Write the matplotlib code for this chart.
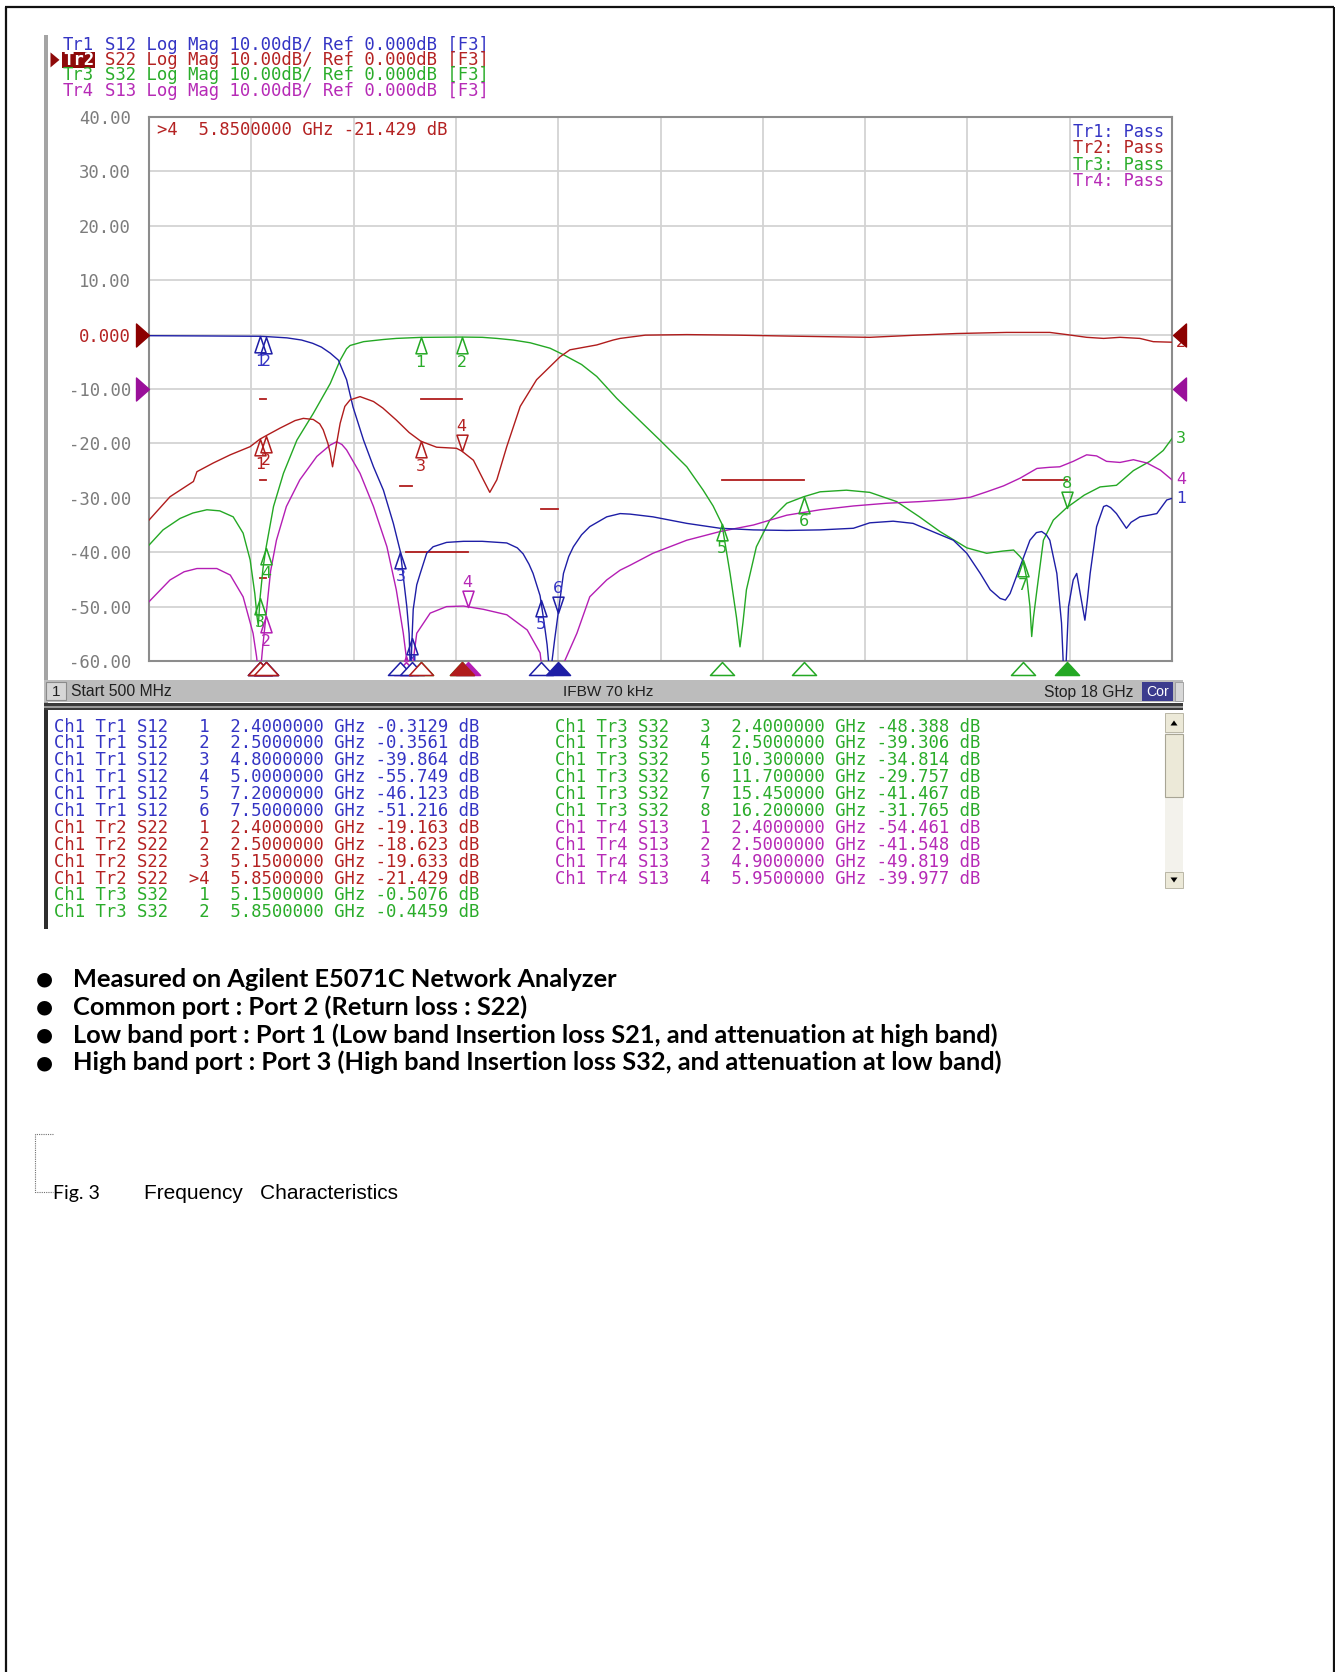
import numpy as np
import matplotlib
matplotlib.use("Agg")
import matplotlib.pyplot as plt
from matplotlib.path import Path
from matplotlib.patches import Rectangle, Polygon
import matplotlib.transforms as mtransforms

# ---------------- data ----------------
s12_freq = [0.5, 1.5, 2.4, 2.5, 2.86, 3.11, 3.3, 3.45, 3.60, 3.74, 3.88, 3.99, 4.17, 4.34, 4.51,
            4.68, 4.80, 4.91, 4.95, 4.975, 5.0, 5.02, 5.08, 5.14, 5.25, 5.36, 5.59, 5.88, 6.2,
            6.62, 6.80, 6.90, 7.0, 7.07, 7.19, 7.26, 7.31, 7.36, 7.44, 7.5, 7.59, 7.68, 7.76,
            7.9, 8.04, 8.33, 8.56, 8.73, 9.12, 9.70, 10.27, 10.84, 11.41, 11.98, 12.55, 12.83,
            13.23, 13.57, 13.97, 14.26, 14.49, 14.72, 14.89, 15.06, 15.15, 15.23, 15.40, 15.57,
            15.68, 15.77, 15.85, 15.91, 16.03, 16.11, 16.15, 16.19, 16.23, 16.31, 16.37, 16.43,
            16.51, 16.55, 16.60, 16.71, 16.83, 16.88, 16.95, 17.05, 17.22, 17.3, 17.45, 17.6,
            17.74, 17.91, 18.0]
s12_db = [-0.2, -0.25, -0.31, -0.36, -0.6, -1.0, -1.6, -2.3, -3.4, -4.7, -8.3, -13.3, -19.4,
          -24.3, -28.6, -34.7, -39.9, -50.0, -55.0, -63.0, -55.7, -50.5, -46.0, -43.9, -40.2,
          -39.0, -38.2, -38.0, -38.0, -38.3, -39.2, -40.3, -42.2, -43.9, -48.0, -53.0, -57.0,
          -63.0, -56.0, -51.2, -43.9, -40.8, -39.0, -36.8, -35.3, -33.5, -32.9, -33.0, -33.5,
          -34.7, -35.6, -35.9, -36.0, -35.9, -35.6, -34.6, -34.3, -34.7, -36.5, -37.8, -40.2,
          -43.9, -46.9, -48.5, -48.8, -47.6, -42.7, -37.8, -36.4, -36.2, -36.8, -37.8, -43.9,
          -53.0, -63.0, -60.0, -50.0, -45.1, -43.9, -47.6, -52.5, -49.0, -43.9, -35.3, -31.6,
          -31.4, -31.8, -32.9, -35.6, -34.5, -33.5, -33.2, -32.9, -30.4, -30.1]

s22_freq = [0.5, 0.86, 1.26, 1.32, 1.60, 1.89, 2.23, 2.4, 2.5, 2.74, 3.0, 3.14, 3.31, 3.42, 3.48,
            3.56, 3.60, 3.64, 3.68, 3.77, 3.85, 3.94, 4.11, 4.34, 4.5, 4.73, 4.95, 5.15, 5.42,
            5.76, 5.85, 6.05, 6.22, 6.33, 6.45, 6.62, 6.85, 7.13, 7.53, 7.70, 8.16, 8.44, 8.56,
            8.99, 9.70, 10.55, 11.58, 12.83, 13.63, 14.32, 15.17, 15.91, 16.20, 16.54, 16.83,
            17.11, 17.45, 17.68, 18.0]
s22_db = [-34.1, -29.8, -27.0, -25.2, -23.6, -22.1, -20.6, -19.2, -18.6, -17.2, -15.8, -15.4,
          -15.6, -16.4, -17.5, -20.0, -21.8, -24.3, -21.8, -16.3, -13.2, -12.0, -11.4, -12.3,
          -13.5, -15.7, -18.0, -19.6, -20.7, -20.9, -21.4, -23.1, -26.7, -29.0, -26.7, -20.6,
          -13.2, -8.3, -4.1, -2.8, -1.9, -1.0, -0.7, -0.1, 0.0, -0.1, -0.3, -0.5, -0.1, 0.2,
          0.4, 0.4, 0.0, -0.5, -0.7, -0.5, -0.7, -1.3, -1.4]

s32_freq = [0.5, 0.74, 1.03, 1.25, 1.49, 1.71, 1.94, 2.11, 2.23, 2.31, 2.35, 2.37, 2.40, 2.45,
            2.5, 2.63, 2.80, 3.03, 3.31, 3.60, 3.77, 3.88, 3.94, 4.17, 4.51, 4.73, 5.15, 5.85,
            6.2, 6.45, 6.73, 7.02, 7.36, 7.59, 7.9, 8.16, 8.50, 8.73, 9.24, 9.70, 9.98, 10.15,
            10.3, 10.44, 10.55, 10.61, 10.66, 10.72, 10.89, 11.12, 11.41, 11.70, 11.98, 12.43,
            12.83, 13.29, 13.68, 14.03, 14.49, 14.83, 15.1, 15.29, 15.40, 15.45, 15.52, 15.57,
            15.60, 15.63, 15.69, 15.80, 15.97, 16.20, 16.5, 16.77, 17.05, 17.34, 17.62, 17.85,
            18.0]
s32_db = [-38.7, -35.9, -33.8, -32.8, -32.2, -32.4, -33.5, -36.5, -41.4, -47.6, -52.0, -53.5,
          -48.4, -43.0, -39.3, -31.6, -25.5, -19.4, -14.5, -9.0, -4.7, -2.6, -2.0, -1.3, -0.9,
          -0.7, -0.51, -0.45, -0.5, -0.7, -1.0, -1.5, -2.5, -3.7, -5.5, -7.7, -11.7, -14.1,
          -19.4, -24.3, -28.6, -31.5, -34.8, -43.9, -52.0, -57.4, -53.0, -46.9, -39.0, -34.1,
          -31.0, -29.8, -28.9, -28.6, -29.0, -30.7, -33.5, -36.2, -39.2, -40.2, -39.8, -39.6,
          -40.8, -41.5, -45.1, -50.0, -55.5, -52.0, -46.9, -37.8, -34.1, -31.8, -29.5, -28.0,
          -27.7, -25.0, -23.3, -21.3, -19.1]

s13_freq = [0.5, 0.86, 1.1, 1.32, 1.66, 1.89, 2.11, 2.28, 2.34, 2.39, 2.44, 2.5, 2.58, 2.68,
            2.85, 3.08, 3.37, 3.60, 3.71, 3.80, 3.88, 4.11, 4.34, 4.57, 4.73, 4.85, 4.91, 4.96,
            5.02, 5.08, 5.31, 5.59, 5.88, 6.22, 6.62, 6.97, 7.19, 7.25, 7.45, 7.59, 7.82, 8.04,
            8.33, 8.56, 8.73, 9.12, 9.70, 10.27, 10.84, 11.41, 11.98, 12.55, 13.12, 13.69, 14.26,
            14.55, 14.83, 15.12, 15.40, 15.69, 15.9, 16.08, 16.31, 16.54, 16.71, 16.88, 17.11,
            17.34, 17.57, 17.80, 18.0]
s13_db = [-49.1, -45.1, -43.6, -43.0, -43.0, -44.2, -48.2, -54.9, -59.2, -64.0, -58.0, -51.8,
          -43.5, -37.8, -31.6, -26.7, -22.4, -20.3, -19.7, -20.2, -21.2, -25.5, -31.6, -39.0,
          -46.9, -54.9, -60.0, -64.0, -60.0, -54.9, -51.2, -50.0, -49.9, -50.5, -51.5, -54.3,
          -58.5, -64.0, -64.0, -60.5, -54.9, -48.2, -45.1, -43.3, -42.4, -40.2, -37.8, -36.2,
          -35.0, -33.2, -32.2, -31.5, -31.0, -30.7, -30.3, -29.9, -28.9, -27.8, -26.4, -24.6,
          -24.4, -24.3, -23.3, -22.1, -22.3, -23.3, -23.5, -23.0, -23.6, -24.9, -26.7]

# marker tables (frequency GHz, readout dB)
tr1_mk_num = ["1", "2", "3", "4", "5", "6"]
tr1_mk_freq = [2.4, 2.5, 4.8, 5.0, 7.2, 7.5]
tr1_mk_db = [-0.3129, -0.3561, -39.864, -55.749, -46.123, -51.216]
tr2_mk_num = ["1", "2", "3", ">4"]
tr2_mk_freq = [2.4, 2.5, 5.15, 5.85]
tr2_mk_db = [-19.163, -18.623, -19.633, -21.429]
tr3_mk_num = ["1", "2", "3", "4", "5", "6", "7", "8"]
tr3_mk_freq = [5.15, 5.85, 2.4, 2.5, 10.3, 11.7, 15.45, 16.2]
tr3_mk_db = [-0.5076, -0.4459, -48.388, -39.306, -34.814, -29.757, -41.467, -31.765]
tr4_mk_num = ["1", "2", "3", "4"]
tr4_mk_freq = [2.4, 2.5, 4.9, 5.95]
tr4_mk_db = [-54.461, -41.548, -49.819, -39.977]

# limit line segments
limit_start = [2.4, 2.4, 2.4, 5.15, 4.8, 4.9, 7.2, 10.3, 15.45]
limit_stop = [2.5, 2.5, 2.5, 5.85, 5.0, 5.95, 7.5, 11.7, 16.2]
limit_db = [-11.8, -26.8, -44.8, -11.8, -27.8, -40.0, -32.0, -26.8, -26.8]

y_ticks = [-60, -50, -40, -30, -20, -10, 0, 10, 20, 30, 40]
y_tick_labels = ["-60.00", "-50.00", "-40.00", "-30.00", "-20.00", "-10.00", "0.000",
                 "10.00", "20.00", "30.00", "40.00"]
x_ticks = [0.5, 2.25, 4.0, 5.75, 7.5, 9.25, 11.0, 12.75, 14.5, 16.25, 18.0]

bullet_lines = ["Measured on Agilent E5071C Network Analyzer",
                "Common port : Port 2 (Return loss : S22)",
                "Low band port : Port 1 (Low band Insertion loss S21, and attenuation at high band)",
                "High band port : Port 3 (High band Insertion loss S32, and attenuation at low band)"]

# ---------------- styling ----------------
W, H = 1335, 1672
MONO = "DejaVu Sans Mono"
MONO_PT = 12.45
CW = MONO_PT * 100 / 72 * 0.602  # character advance in pixels
BLUE_TR, BLUE_TX = "#1e1ea6", "#3434c4"
RED_TR, RED_TX = "#b01c1c", "#b42222"
GREEN_TR, GREEN_TX = "#24a824", "#2aac2a"
MAG_TR, MAG_TX = "#b41eb4", "#b62ab6"
GRAYTXT = "#7c7c7c"
MK_FONT = 11.5

fig = plt.figure(figsize=(W / 100, H / 100), dpi=100)
fig.patch.set_facecolor("white")
renderer = fig.canvas.get_renderer()


def frac(x0, y0, x1, y1):
    return [x0 / W, 1 - y1 / H, (x1 - x0) / W, (y1 - y0) / H]


AX_L, AX_T, AX_R, AX_B = 149, 117, 1172, 661
ax = fig.add_axes(frac(AX_L, AX_T, AX_R, AX_B))
ax.set_xlim(0.5, 18)
ax.set_ylim(-60, 40)
ax.set_facecolor("white")
ax.set_xticks(x_ticks)
ax.set_xticklabels([])
ax.set_yticks(y_ticks)
ax.set_yticklabels(y_tick_labels, fontfamily=MONO, fontsize=MONO_PT, color=GRAYTXT)
for lab in ax.get_yticklabels():
    if lab.get_text() == "0.000":
        lab.set_color(RED_TX)
ax.tick_params(length=0, pad=13)
ax.grid(True, color="#d3d3d3", lw=1.3)
ax.set_axisbelow(True)
for sp in ax.spines.values():
    sp.set_color("#8c8c8c")
    sp.set_linewidth(1.5)

ov = fig.add_axes([0, 0, 1, 1])
ov.set_xlim(0, W)
ov.set_ylim(H, 0)
ov.axis("off")
ov.patch.set_alpha(0)
ov.set_zorder(10)

# ---------------- traces ----------------
traces = [
    dict(f=s32_freq, d=s32_db, c=GREEN_TR, t=GREEN_TX, num=tr3_mk_num, mf=tr3_mk_freq, act="8"),
    dict(f=s13_freq, d=s13_db, c=MAG_TR, t=MAG_TX, num=tr4_mk_num, mf=tr4_mk_freq, act="4"),
    dict(f=s12_freq, d=s12_db, c=BLUE_TR, t=BLUE_TX, num=tr1_mk_num, mf=tr1_mk_freq, act="6"),
    dict(f=s22_freq, d=s22_db, c=RED_TR, t=RED_TX, num=tr2_mk_num, mf=tr2_mk_freq, act=">4"),
]
end_labels = {GREEN_TR: "3", MAG_TR: "4", BLUE_TR: "1", RED_TR: "2"}

for tr in traces:
    ax.plot(tr["f"], tr["d"], color=tr["c"], lw=1.0, zorder=3)

for fs, fe, dbv in zip(limit_start, limit_stop, limit_db):
    ax.plot([fs, fe], [dbv, dbv], color=RED_TR, lw=1.3, zorder=2.5)

# marker triangles
up_tri = Path([(0, 0), (-0.34, -1), (0.34, -1), (0, 0)],
              [Path.MOVETO, Path.LINETO, Path.LINETO, Path.CLOSEPOLY])
dn_tri = Path([(0, 0), (-0.34, 1), (0.34, 1), (0, 0)],
              [Path.MOVETO, Path.LINETO, Path.LINETO, Path.CLOSEPOLY])
bot_tri = Path([(0, 0), (-0.5, -0.54), (0.5, -0.54), (0, 0)],
               [Path.MOVETO, Path.LINETO, Path.LINETO, Path.CLOSEPOLY])
MK_MS = 23.5

bt = mtransforms.blended_transform_factory(ax.transData, ov.transData)
for tr in traces:
    for num, mf in zip(tr["num"], tr["mf"]):
        yv = float(np.interp(mf, tr["f"], tr["d"]))
        active = (num == tr["act"])
        lbl = num.replace(">", "")
        mk = dn_tri if active else up_tri
        off = 17.5 if active else -18.0
        ax.plot([mf], [yv], marker=mk, ms=MK_MS, mfc="none", mec=tr["c"], mew=1.1,
                ls="none", zorder=4, clip_on=True)
        a = ax.annotate(lbl, (mf, yv), xytext=(0, off), textcoords="offset points",
                        ha="center", va="center", fontsize=MK_FONT, color=tr["t"],
                        annotation_clip=False, zorder=4)
        a.set_clip_on(True)
        a.set_clip_box(ax.bbox)
        ov.plot([mf], [662], marker=bot_tri, ms=18.7, mfc=(tr["c"] if active else "white"),
                mec=tr["c"], mew=1.1, ls="none", transform=bt, clip_on=False)
    ax.annotate(end_labels[tr["c"]], (18.0, tr["d"][-1]), xytext=(3, 0),
                textcoords="offset points", ha="left", va="center", fontsize=MK_FONT,
                color=tr["t"], annotation_clip=False)

# reference level triangles
ref_r = Path([(0, 0), (-0.565, 0.5), (-0.565, -0.5), (0, 0)],
             [Path.MOVETO, Path.LINETO, Path.LINETO, Path.CLOSEPOLY])
ref_l = Path([(0, 0), (0.565, 0.5), (0.565, -0.5), (0, 0)],
             [Path.MOVETO, Path.LINETO, Path.LINETO, Path.CLOSEPOLY])
bt_y = mtransforms.blended_transform_factory(ov.transData, ax.transData)
for yref, col in [(0, "#8c0000"), (-10, "#9a109a")]:
    ov.plot([148.5], [yref], marker=ref_r, ms=18.7, color=col, ls="none", transform=bt_y,
            clip_on=False)
    ov.plot([1172.5], [yref], marker=ref_l, ms=18.7, color=col, ls="none", transform=bt_y,
            clip_on=False)

# ---------------- page decoration ----------------
ov.plot([5, 1334], [7, 7], color="#111111", lw=1.6, solid_capstyle="butt")
ov.plot([5.5, 5.5], [7, H], color="#111111", lw=1.6, solid_capstyle="butt")
ov.plot([1333.5, 1333.5], [7, H], color="#111111", lw=1.6, solid_capstyle="butt")

# left bar of the analyzer screen
ov.add_patch(Rectangle((43.5, 35), 4.5, 668, facecolor="#a4a4a4", edgecolor="none"))
ov.add_patch(Rectangle((43.5, 703), 4.5, 226, facecolor="#2e2e2e", edgecolor="none"))

# header
hx, hy0, hdy = 63, 44.5, 15.4
hdr_rows = [("Tr1", "S12 Log Mag 10.00dB/ Ref 0.000dB [F3]", BLUE_TX),
            ("Tr2", "S22 Log Mag 10.00dB/ Ref 0.000dB [F3]", RED_TX),
            ("Tr3", "S32 Log Mag 10.00dB/ Ref 0.000dB [F3]", GREEN_TX),
            ("Tr4", "S13 Log Mag 10.00dB/ Ref 0.000dB [F3]", MAG_TX)]
for i, (tname, s, c) in enumerate(hdr_rows):
    y = hy0 + i * hdy
    if tname == "Tr2":
        ov.add_patch(Rectangle((62, y - 7.7), 33, 15.5, facecolor="#8e0a0a",
                               edgecolor="none"))
        ov.add_patch(Polygon([(50.5, y - 7.5), (59.5, y), (50.5, y + 7.5)], closed=True,
                             facecolor="#8e0a0a", edgecolor="none"))
        ov.text(hx, y, tname, family=MONO, fontsize=MONO_PT, color="white", ha="left",
                va="center", weight="bold")
    else:
        ov.text(hx, y, tname, family=MONO, fontsize=MONO_PT, color=c, ha="left",
                va="center")
    ov.text(hx + 4 * CW, y, s, family=MONO, fontsize=MONO_PT, color=c, ha="left",
            va="center")

# marker readout in plot & pass/fail
ov.text(157, 130, ">4  5.8500000 GHz -21.429 dB", family=MONO, fontsize=MONO_PT,
        color=RED_TX, ha="left", va="center")
for i, (s, c) in enumerate([("Tr1: Pass", BLUE_TX), ("Tr2: Pass", RED_TX),
                            ("Tr3: Pass", GREEN_TX), ("Tr4: Pass", MAG_TX)]):
    ov.text(1073, 131.7 + i * 16.6, s, family=MONO, fontsize=12.1, color=c, ha="left",
            va="center")

# status bar
ov.add_patch(Rectangle((44, 680), 1139, 22, facecolor="#bcbcbc", edgecolor="none"))
ov.add_patch(Rectangle((46, 682), 20, 18, facecolor="#d6d6d6", edgecolor="#8a8a8a", lw=0.8))
ov.text(56, 691.5, "1", fontfamily="Liberation Sans", fontsize=11, color="#202020",
        ha="center", va="center")
ov.add_patch(Rectangle((44, 702.5), 1139, 3, facecolor="#3a3a3a", edgecolor="none"))
ov.add_patch(Rectangle((44, 705.5), 1139, 2, facecolor="#9a9a9a", edgecolor="none"))
ov.add_patch(Rectangle((44, 707.5), 1139, 2.5, facecolor="#3a3a3a", edgecolor="none"))


def fit(t, width):
    bb = t.get_window_extent(renderer=renderer)
    t.set_fontsize(t.get_fontsize() * width / bb.width)
    return t


fit(ov.text(71, 692, "Start 500 MHz", fontfamily="Liberation Sans", fontsize=11,
            color="#202020", ha="left", va="center"), 101)
fit(ov.text(563, 692, "IFBW 70 kHz", fontfamily="Liberation Sans", fontsize=11,
            color="#202020", ha="left", va="center"), 90)
fit(ov.text(1044, 692, "Stop 18 GHz", fontfamily="Liberation Sans", fontsize=11,
            color="#202020", ha="left", va="center"), 89)
ov.add_patch(Rectangle((1142, 681.5), 31, 19.5, facecolor="#3c3c8e", edgecolor="none"))
fit(ov.text(1146.5, 692, "Cor", fontfamily="Liberation Sans", fontsize=11,
            color="white", ha="left", va="center"), 22.5)
ov.add_patch(Rectangle((1175, 681.5), 8, 19.5, facecolor="#d8d8d8", edgecolor="#9a9a9a",
                       lw=0.6))

# marker list


def row_text(tr, par, num, f, d):
    fs = f"{f:.7f}"[:9]
    ds = f"{d:.4f}" if abs(d) < 1 else f"{d:.3f}"
    return f"Ch1 Tr{tr} {par}  {num:>2}  {fs} GHz {ds} dB"


rows = []
for n, f, d in zip(tr1_mk_num, tr1_mk_freq, tr1_mk_db):
    rows.append((row_text(1, "S12", n, f, d), BLUE_TX))
for n, f, d in zip(tr2_mk_num, tr2_mk_freq, tr2_mk_db):
    rows.append((row_text(2, "S22", n, f, d), RED_TX))
for n, f, d in zip(tr3_mk_num, tr3_mk_freq, tr3_mk_db):
    rows.append((row_text(3, "S32", n, f, d), GREEN_TX))
for n, f, d in zip(tr4_mk_num, tr4_mk_freq, tr4_mk_db):
    rows.append((row_text(4, "S13", n, f, d), MAG_TX))

ry0, rdy = 726.5, 16.9
for i, (s, c) in enumerate(rows):
    if i < 12:
        x, y = 54.5, ry0 + i * rdy
    else:
        x, y = 555, ry0 + (i - 12) * rdy
    ov.text(x, y, s, family=MONO, fontsize=MONO_PT, color=c, ha="left", va="center")

# scrollbar
ov.add_patch(Rectangle((1165, 713), 18, 175, facecolor="#f3f2ec", edgecolor="none"))
ov.add_patch(Rectangle((1165, 713), 18, 19, facecolor="#ece9d8", edgecolor="#b0ad9c", lw=0.6))
ov.add_patch(Rectangle((1165, 734), 18, 63, facecolor="#ece9d8", edgecolor="#a8a595", lw=0.8))
ov.add_patch(Rectangle((1165, 872), 18, 16, facecolor="#ece9d8", edgecolor="#b0ad9c", lw=0.6))
ov.add_patch(Polygon([(1170.5, 725.5), (1174, 720.5), (1177.5, 725.5)], closed=True,
                     facecolor="black", edgecolor="none"))
ov.add_patch(Polygon([(1170.5, 877.5), (1174, 882.5), (1177.5, 877.5)], closed=True,
                     facecolor="black", edgecolor="none"))

# bullets
baselines = [987, 1015, 1043, 1070.5]
tmp = ov.text(73, baselines[3], bullet_lines[3], fontfamily="Lato", weight="bold",
              fontsize=16, color="black", ha="left", va="baseline")
fit(tmp, 933)
bfs = tmp.get_fontsize()
for i, s in enumerate(bullet_lines[:3]):
    ov.text(73, baselines[i], s, fontfamily="Lato", weight="bold", fontsize=bfs,
            color="black", ha="left", va="baseline")
for yb in baselines:
    ov.text(44.5, yb - 8, "\u25cf", fontfamily="DejaVu Sans", fontsize=14, color="black",
            ha="center", va="center")

# caption
ov.plot([53, 35, 35, 53], [1134, 1134, 1192, 1192], color="#707070", lw=0.8,
        ls=(0, (1, 1)))
fit(ov.text(53, 1199, "Fig. 3", fontfamily="Lato", fontsize=14, color="black",
            ha="left", va="baseline"), 47)
fit(ov.text(144, 1199, "Frequency   Characteristics", fontfamily="Liberation Sans",
            fontsize=14, color="black", ha="left", va="baseline"), 256)

fig.savefig("out.png", dpi=100, facecolor="white")
